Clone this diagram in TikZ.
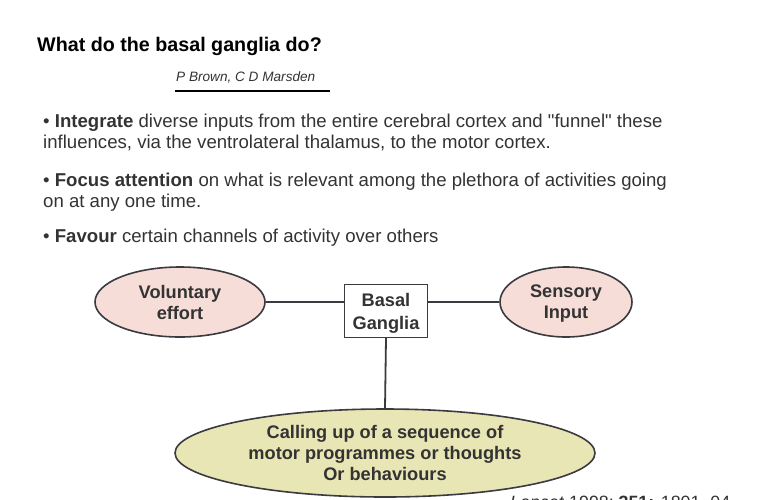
\documentclass[tikz,border=0pt]{standalone}
\usepackage{fontspec}
\setmainfont{Liberation Sans}
\usetikzlibrary{shapes.geometric}
\definecolor{pinkfill}{HTML}{F6DDD8}
\definecolor{yelfill}{HTML}{E8E6B4}
\definecolor{ink}{HTML}{333333}
\definecolor{edge}{HTML}{3A3A40}
\tikzset{
  oval/.style={ellipse, draw=edge, line width=1.6pt, align=center, inner sep=0pt, text=ink, font=\fontsize{18.2}{21}\selectfont\bfseries},
  gbox/.style={rectangle, draw=edge, line width=1.4pt, align=center, text=ink, font=\fontsize{18.2}{23}\selectfont\bfseries, inner sep=3pt},
  link/.style={draw=edge, line width=1.8pt},
  bullet/.style={anchor=base west, inner sep=0pt, align=left, text=ink, font=\fontsize{18.6}{20}\selectfont}
}
\begin{document}
\begin{tikzpicture}[x=1pt,y=-1pt]
\useasboundingbox (0,0) rectangle (770,499);
\node[anchor=base west, inner sep=0pt, font=\fontsize{19.7}{22}\selectfont\bfseries] (title) at (37,51) {What do the basal ganglia do?};
\node[anchor=base west, inner sep=0pt, font=\fontsize{13.6}{15}\selectfont\itshape, text=ink] (auth) at (176,81) {P Brown, C D Marsden};
\coordinate (ul1) at (175,91);
\coordinate (ul2) at (330,91);
\draw[line width=1.6pt] (ul1) -- (ul2);
\node[bullet] (b1) at (43,127) {• \textbf{Integrate} diverse inputs from the entire cerebral cortex and \textquotedbl funnel\textquotedbl{} these};
\node[bullet] (b1b) at (43,148) {influences, via the ventrolateral thalamus, to the motor cortex.};
\node[bullet] (b2) at (43,186) {• \textbf{Focus attention} on what is relevant among the plethora of activities going};
\node[bullet] (b2b) at (43,207) {on at any one time.};
\node[bullet] (b3) at (43,242) {• \textbf{Favour} certain channels of activity over others};
\node[oval, fill=pinkfill, minimum width=170pt, minimum height=70pt] (vol) at (180,302) {Voluntary\\effort};
\node[oval, fill=pinkfill, minimum width=132pt, minimum height=70pt] (sen) at (566,302) {Sensory\\\raisebox{0pt}[\height][0pt]{Input}};
\node[gbox, fill=white, minimum width=83pt, minimum height=53pt] (bg) at (386,311) {Basal\\\raisebox{0pt}[\height][0pt]{Ganglia}};
\node[oval, fill=yelfill, minimum width=420pt, minimum height=88pt] (call) at (385,453) {Calling up of a sequence of\\motor programmes or thoughts\\Or behaviours};
\draw[link] (vol.east) -- (vol.east -| bg.west);
\draw[link] (sen.west) -- (sen.west -| bg.east);
\draw[link] (bg.south) -- (call.north);
\node[anchor=base west, inner sep=0pt, font=\fontsize{17.8}{20}\selectfont, text=ink] (ref) at (510,508) {\textit{Lancet} 1998; \textbf{351:} 1801–04};
\end{tikzpicture}
\end{document}
